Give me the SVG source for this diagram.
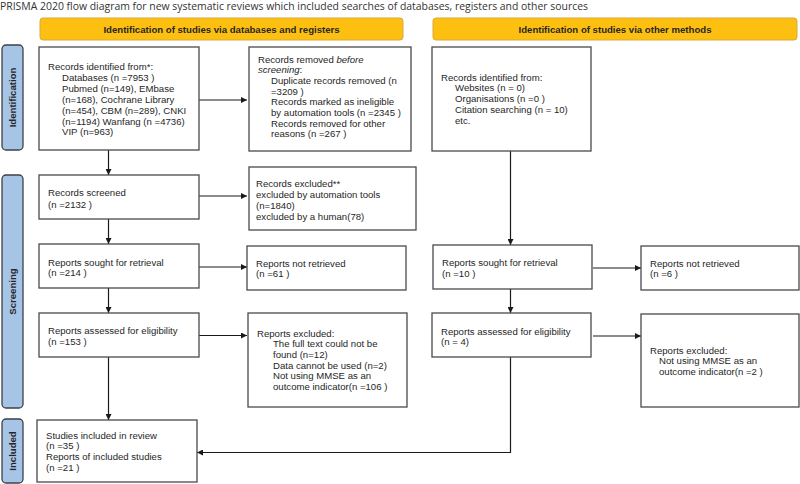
<svg xmlns="http://www.w3.org/2000/svg" width="800" height="484" viewBox="0 0 800 484">
<defs>
<marker id="ah" viewBox="0 0 10 10" refX="10" refY="5" markerWidth="6" markerHeight="6" markerUnits="userSpaceOnUse" orient="auto"><path d="M0,0 L10,5 L0,10 z" fill="#1a1a1a"/></marker>
<style>
.t{font-family:"Liberation Sans",Arial,sans-serif;font-size:9.6px;fill:#262626}
.b{fill:#fff;stroke:#4a4a4a;stroke-width:1.3}
.ban{fill:#fdc010;stroke:#d9a93a;stroke-width:1}
.bt{font-family:"Liberation Sans",Arial,sans-serif;font-size:9.6px;font-weight:bold;fill:#262626;text-anchor:middle}
.side{fill:#a6c4e6;stroke:#3d4149;stroke-width:1.3}
.st{font-family:"Liberation Sans",Arial,sans-serif;font-size:9.6px;font-weight:bold;fill:#262626;text-anchor:middle}
.c{fill:none;stroke:#1a1a1a;stroke-width:1.2}
</style>
</defs>
<rect width="800" height="484" fill="#fff"/>
<text x="0" y="10" font-family="'Open Sans','Noto Sans',sans-serif" font-size="10.5" fill="#333" textLength="588" lengthAdjust="spacingAndGlyphs">PRISMA 2020 flow diagram for new systematic reviews which included searches of databases, registers and other sources</text>

<g id="banner-db"><rect class="ban" x="40" y="18" width="363" height="22" rx="3"/><text class="bt" x="221.5" y="32.5">Identification of studies via databases and registers</text></g>
<g id="banner-other"><rect class="ban" x="433" y="18" width="364" height="22" rx="3"/><text class="bt" x="615" y="32.5">Identification of studies via other methods</text></g>

<g id="side-identification"><rect class="side" x="2" y="45" width="21" height="105" rx="4"/><text class="st" transform="translate(16 97.5) rotate(-90)">Identification</text></g>
<g id="side-screening"><rect class="side" x="2" y="175" width="21" height="233" rx="4"/><text class="st" transform="translate(16 291.5) rotate(-90)">Screening</text></g>
<g id="side-included"><rect class="side" x="2" y="419" width="21" height="64" rx="4"/><text class="st" transform="translate(16 451) rotate(-90)">Included</text></g>

<g id="connectors">
<line class="c" x1="199" y1="100" x2="247" y2="100" marker-end="url(#ah)"/>
<line class="c" x1="108.5" y1="150" x2="108.5" y2="175" marker-end="url(#ah)"/>
<line class="c" x1="199" y1="196" x2="247" y2="196" marker-end="url(#ah)"/>
<line class="c" x1="108.5" y1="219" x2="108.5" y2="244" marker-end="url(#ah)"/>
<line class="c" x1="199" y1="267" x2="247" y2="267" marker-end="url(#ah)"/>
<line class="c" x1="108.5" y1="288" x2="108.5" y2="313" marker-end="url(#ah)"/>
<line class="c" x1="199" y1="335.5" x2="247" y2="335.5" marker-end="url(#ah)"/>
<line class="c" x1="108.5" y1="357" x2="108.5" y2="420" marker-end="url(#ah)"/>
<line class="c" x1="510.5" y1="151" x2="510.5" y2="245" marker-end="url(#ah)"/>
<line class="c" x1="593" y1="268" x2="641" y2="268" marker-end="url(#ah)"/>
<line class="c" x1="510.5" y1="289" x2="510.5" y2="313" marker-end="url(#ah)"/>
<line class="c" x1="593" y1="336" x2="641" y2="336" marker-end="url(#ah)"/>
<polyline class="c" points="510.5,357 510.5,452.5 197,452.5" marker-end="url(#ah)"/>
</g>

<g id="records-identified"><rect class="b" x="39" y="47" width="160" height="103"/>
<text class="t" x="48" y="70">Records identified from*:</text>
<text class="t" x="62"><tspan x="62" y="80.9">Databases (n =7953 )</tspan><tspan x="62" y="91.8">Pubmed (n=149), EMbase</tspan><tspan x="62" y="102.7">(n=168), Cochrane Library</tspan><tspan x="62" y="113.6">(n=454), CBM (n=289), CNKI</tspan><tspan x="62" y="124.5">(n=1194) Wanfang (n =4736)</tspan><tspan x="62" y="135.4">VIP (n=963)</tspan></text></g>

<g id="records-removed"><rect class="b" x="249" y="47" width="162" height="104"/>
<text class="t" x="258" y="62.5">Records removed <tspan font-style="italic">before</tspan></text>
<text class="t" x="258" y="73.2"><tspan font-style="italic">screening</tspan>:</text>
<text class="t"><tspan x="271" y="83.9">Duplicate records removed  (n</tspan><tspan x="271" y="94.6">=3209 )</tspan><tspan x="271" y="105.3">Records marked as ineligible</tspan><tspan x="271" y="116">by automation tools (n =2345 )</tspan><tspan x="271" y="126.7">Records removed for other</tspan><tspan x="271" y="137.4">reasons (n =267 )</tspan></text></g>

<g id="records-screened"><rect class="b" x="39" y="175" width="160" height="44"/>
<text class="t"><tspan x="48" y="195.5">Records screened</tspan><tspan x="48" y="208">(n =2132 )</tspan></text></g>

<g id="records-excluded"><rect class="b" x="249" y="167" width="167" height="63"/>
<text class="t"><tspan x="256" y="187">Records excluded**</tspan><tspan x="256" y="198">excluded by automation tools</tspan><tspan x="256" y="209">(n=1840)</tspan><tspan x="256" y="220">excluded by a human(78)</tspan></text></g>

<g id="reports-sought"><rect class="b" x="39" y="244" width="160" height="44"/>
<text class="t"><tspan x="48" y="265.5">Reports sought for retrieval</tspan><tspan x="48" y="276">(n =214 )</tspan></text></g>

<g id="reports-not-retrieved"><rect class="b" x="247" y="246" width="159" height="44"/>
<text class="t"><tspan x="256" y="266.5">Reports not retrieved</tspan><tspan x="256" y="277">(n =61 )</tspan></text></g>

<g id="reports-assessed"><rect class="b" x="39" y="313" width="160" height="44"/>
<text class="t"><tspan x="48" y="333.5">Reports assessed for eligibility</tspan><tspan x="48" y="344.5">(n =153 )</tspan></text></g>

<g id="reports-excluded"><rect class="b" x="248" y="313" width="159" height="94"/>
<text class="t" x="257" y="336.5">Reports excluded:</text>
<text class="t"><tspan x="273" y="347.2">The full text could not be</tspan><tspan x="273" y="357.9">found (n=12)</tspan><tspan x="273" y="368.6">Data cannot be used (n=2)</tspan><tspan x="273" y="379.3">Not using MMSE as an</tspan><tspan x="273" y="390">outcome indicator(n =106 )</tspan></text></g>

<g id="studies-included"><rect class="b" x="37" y="420" width="160" height="62"/>
<text class="t"><tspan x="46" y="438.5">Studies included in review</tspan><tspan x="46" y="449.2">(n =35 )</tspan><tspan x="46" y="459.9">Reports of included studies</tspan><tspan x="46" y="470.6">(n =21 )</tspan></text></g>

<g id="other-identified"><rect class="b" x="432" y="47" width="159" height="104"/>
<text class="t" x="441" y="80.5">Records identified from:</text>
<text class="t"><tspan x="455" y="91.3">Websites (n = 0)</tspan><tspan x="455" y="102.1">Organisations (n =0 )</tspan><tspan x="455" y="112.9">Citation searching (n = 10)</tspan><tspan x="455" y="123.7">etc.</tspan></text></g>

<g id="other-sought"><rect class="b" x="433" y="245" width="159" height="44"/>
<text class="t"><tspan x="442" y="265.5">Reports sought for retrieval</tspan><tspan x="442" y="276.5">(n =10 )</tspan></text></g>

<g id="other-not-retrieved"><rect class="b" x="641" y="246" width="158" height="44"/>
<text class="t"><tspan x="650" y="266.5">Reports not retrieved</tspan><tspan x="650" y="277">(n =6 )</tspan></text></g>

<g id="other-assessed"><rect class="b" x="432" y="313" width="159" height="44"/>
<text class="t"><tspan x="441" y="334.5">Reports assessed for eligibility</tspan><tspan x="441" y="345">(n = 4)</tspan></text></g>

<g id="other-excluded"><rect class="b" x="641" y="314" width="158" height="93"/>
<text class="t" x="650" y="353.5">Reports excluded:</text>
<text class="t"><tspan x="659" y="364.2">Not using MMSE as an</tspan><tspan x="659" y="374.9">outcome indicator(n =2 )</tspan></text></g>
</svg>
